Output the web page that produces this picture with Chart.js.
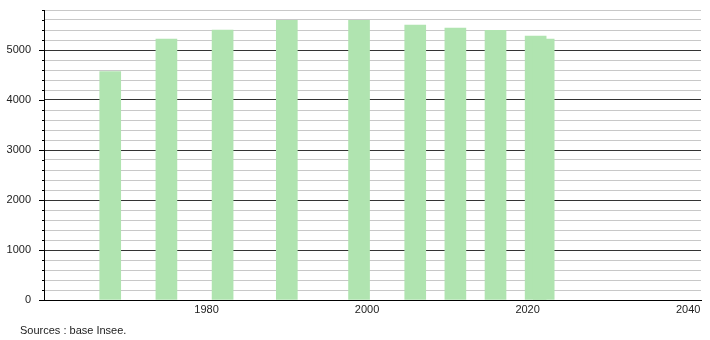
<!DOCTYPE html>
<html>
<head>
<meta charset="utf-8">
<script src="https://cdn.jsdelivr.net/npm/chart.js@4.4.0/dist/chart.umd.min.js"></script>
<style>
  html, body { margin: 0; padding: 0; background: #fff; }
  #wrap { position: relative; width: 710px; height: 340px; }
  #source { position: absolute; left: 20px; top: 324px; font: 11px "Liberation Sans", Arial, sans-serif; line-height: 12px; color: #222; }
</style>
</head>
<body>
<div id="wrap">
  <canvas id="chart" width="710" height="340"></canvas>
  <div id="source">Sources : base Insee.</div>
</div>
<script>
const years = [1968, 1975, 1982, 1990, 1999, 2006, 2011, 2016, 2021, 2022];
const population = [4570, 5220, 5400, 5595, 5595, 5500, 5440, 5395, 5280, 5220];
const yearTicks = [1980, 2000, 2020, 2040];

const font = { family: "'Liberation Sans', Arial, sans-serif", size: 11 };

// small tick marks on the y axis, longer on the thousands
const axisTicks = {
  id: "axisTicks",
  afterDraw(chart) {
    const { ctx } = chart;
    const y = chart.scales.y;
    ctx.save();
    ctx.strokeStyle = "#000";
    ctx.lineWidth = 1;
    y.ticks.forEach((t) => {
      const py = Math.round(y.getPixelForValue(t.value)) + 0.5;
      const len = t.value % 1000 === 0 ? 5 : 2;
      ctx.beginPath();
      ctx.moveTo(y.right - len, py);
      ctx.lineTo(y.right, py);
      ctx.stroke();
    });
    ctx.restore();
  },
};

new Chart(document.getElementById("chart"), {
  type: "bar",
  data: {
    datasets: [
      {
        data: years.map((x, i) => ({ x, y: population[i] })),
        backgroundColor: "rgb(176, 228, 176)",
        borderWidth: 0,
        barThickness: 21,
      },
    ],
  },
  options: {
    responsive: false,
    animation: false,
    layout: { padding: { top: 10, right: 9, left: 0, bottom: 0 } },
    plugins: { legend: { display: false }, tooltip: { enabled: false } },
    scales: {
      x: {
        type: "linear",
        offset: false,
        min: 1959.75,
        max: 2041.6,
        grid: { display: false, drawTicks: false, offset: false },
        border: { color: "#000", width: 1 },
        afterBuildTicks(scale) {
          scale.ticks = yearTicks.map((v) => ({ value: v }));
        },
        afterFit(scale) {
          scale.height = 40;
          scale.paddingLeft = 0;
          scale.paddingRight = 0;
        },
        ticks: {
          font,
          color: "#222",
          padding: 3,
          maxRotation: 0,
          autoSkip: false,
          callback: (v) => String(v),
        },
      },
      y: {
        min: 0,
        max: 5800,
        border: { color: "#000", width: 1 },
        grid: {
          drawTicks: false,
          color: (c) => (c.tick && c.tick.value % 1000 === 0 ? "#333" : "#c8c8c8"),
        },
        afterFit(scale) {
          scale.width = 44;
          scale.paddingTop = 0;
          scale.paddingBottom = 0;
        },
        ticks: {
          stepSize: 200,
          autoSkip: false,
          font,
          color: "#222",
          padding: 13,
          callback: (v) => (v % 1000 === 0 ? String(v) : ""),
        },
      },
    },
  },
  plugins: [axisTicks],
});
</script>
</body>
</html>
